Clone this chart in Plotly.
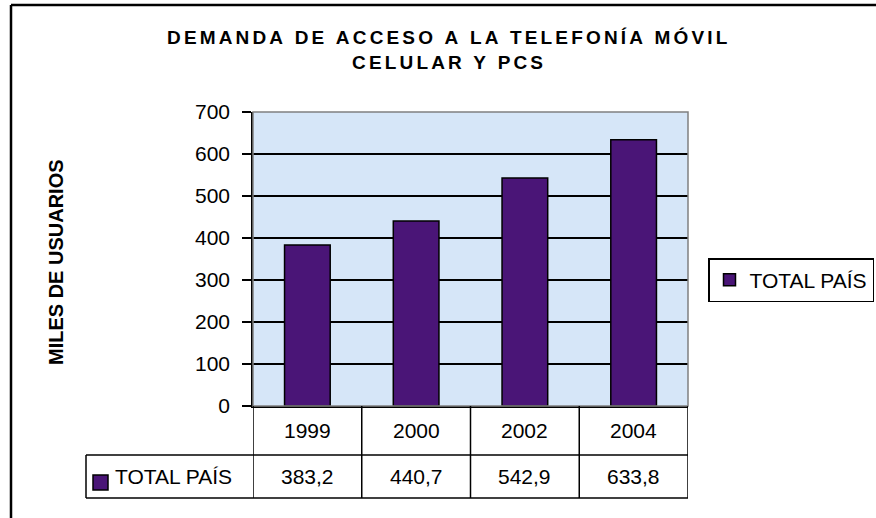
import plotly.graph_objects as go

years = ["1999", "2000", "2002", "2004"]
total_pais = [383.2, 440.7, 542.9, 633.8]
value_labels = ["383,2", "440,7", "542,9", "633,8"]
series_name = "TOTAL PAÍS"
y_ticks = [0, 100, 200, 300, 400, 500, 600, 700]
title_line1 = "DEMANDA DE ACCESO A LA TELEFONÍA MÓVIL"
title_line2 = "CELULAR Y PCS"
y_title = "MILES DE USUARIOS"

W, H = 876, 518
L, R, T, B = 253, 688, 112, 406  # plot area pixel box
PW, PH = R - L, B - T

def px(x):
    return (x - L) / PW

def py(y):
    return (B - y) / PH

def spaced(s):
    return "\u2006".join(s)

BAR = "#4a1577"
FONT = "Liberation Sans, Arial, sans-serif"
FS = 21

fig = go.Figure()
fig.add_trace(go.Bar(
    x=list(range(len(years))), y=total_pais, name=series_name,
    marker=dict(color=BAR, line=dict(color="black", width=1.5)),
    width=0.42,
))

shapes = []
annotations = []

def note(x, y, text, xref="paper", size=FS, bold=False, angle=0, xanchor="center"):
    f = dict(size=size, color="black", family=FONT)
    if bold:
        f["weight"] = "bold"
    annotations.append(dict(x=x, y=y, xref=xref, yref="paper", text=text, showarrow=False,
                            xanchor=xanchor, yanchor="middle", textangle=angle, font=f))

frame = dict(color="black", width=2.5)
# outer frame: top and left edges
shapes.append(dict(type="line", xref="paper", yref="paper",
                   x0=px(11), x1=px(W + 5), y0=py(5), y1=py(5), line=frame, layer="above"))
shapes.append(dict(type="line", xref="paper", yref="paper",
                   x0=px(11), x1=px(11), y0=py(5), y1=py(H + 5), line=frame, layer="above"))
# plot area frame (grey)
shapes.append(dict(type="rect", xref="paper", yref="paper",
                   x0=0, x1=1, y0=0, y1=1,
                   line=dict(color="#808080", width=1.5), layer="above"))

# data table
row1_b, row2_b = 455, 498
tl = dict(color="black", width=1.5)
shapes.append(dict(type="line", xref="paper", yref="paper", x0=0, x1=1, y0=py(row1_b), y1=py(row1_b), line=tl))
shapes.append(dict(type="line", xref="paper", yref="paper", x0=px(86), x1=1, y0=py(row2_b), y1=py(row2_b), line=tl))
shapes.append(dict(type="line", xref="paper", yref="paper", x0=px(86), x1=0, y0=py(row1_b), y1=py(row1_b), line=tl))
shapes.append(dict(type="line", xref="paper", yref="paper", x0=px(86), x1=px(86), y0=py(row1_b), y1=py(row2_b), line=tl))
for i in range(len(years) + 1):
    xv = i - 0.5
    shapes.append(dict(type="line", xref="x", yref="paper", x0=xv, x1=xv,
                       y0=py(B), y1=py(row2_b), line=tl))
# legend key in table
shapes.append(dict(type="rect", xref="paper", yref="paper",
                   x0=px(93), x1=px(108), y0=py(490), y1=py(475),
                   fillcolor=BAR, line=dict(color="black", width=1.5)))
note(px(113), py((row1_b + row2_b) / 2), series_name, xanchor="left")
for i, (yr, v) in enumerate(zip(years, value_labels)):
    note(i, py((B + row1_b) / 2), yr, xref="x")
    note(i, py((row1_b + row2_b) / 2), v, xref="x")

# title
note(px(447), py(37), spaced(title_line1), size=19, bold=True)
note(px(447), py(62), spaced(title_line2), size=19, bold=True)
# y title
note(px(56), py(262), y_title, size=20, bold=True, angle=-90)

fig.update_layout(
    width=W, height=H,
    margin=dict(l=L, r=W - R, t=T, b=H - B, autoexpand=False),
    paper_bgcolor="white", plot_bgcolor="#d6e6f8",
    showlegend=True,
    legend=dict(x=px(708), y=py(258), xanchor="left", yanchor="top",
                bordercolor="black", borderwidth=1.5, bgcolor="white",
                font=dict(size=FS, color="black", family=FONT)),
    shapes=shapes, annotations=annotations,
)
fig.update_xaxes(range=[-0.5, len(years) - 0.5], showticklabels=False, showgrid=False,
                 zeroline=False, showline=True, linecolor="black", linewidth=1.5, ticks="")
fig.update_yaxes(range=[0, 700], tickvals=y_ticks, showgrid=True, gridcolor="black", gridwidth=1.5,
                 zeroline=False, showline=True, linecolor="black", linewidth=1.5,
                 ticks="outside", ticklen=9, tickcolor="black", tickwidth=1.5,
                 ticklabelstandoff=8,
                 tickfont=dict(size=FS, color="black", family=FONT))

fig.write_html("out.html", config={"displayModeBar": False},
               post_script="document.body.style.margin='0';")
